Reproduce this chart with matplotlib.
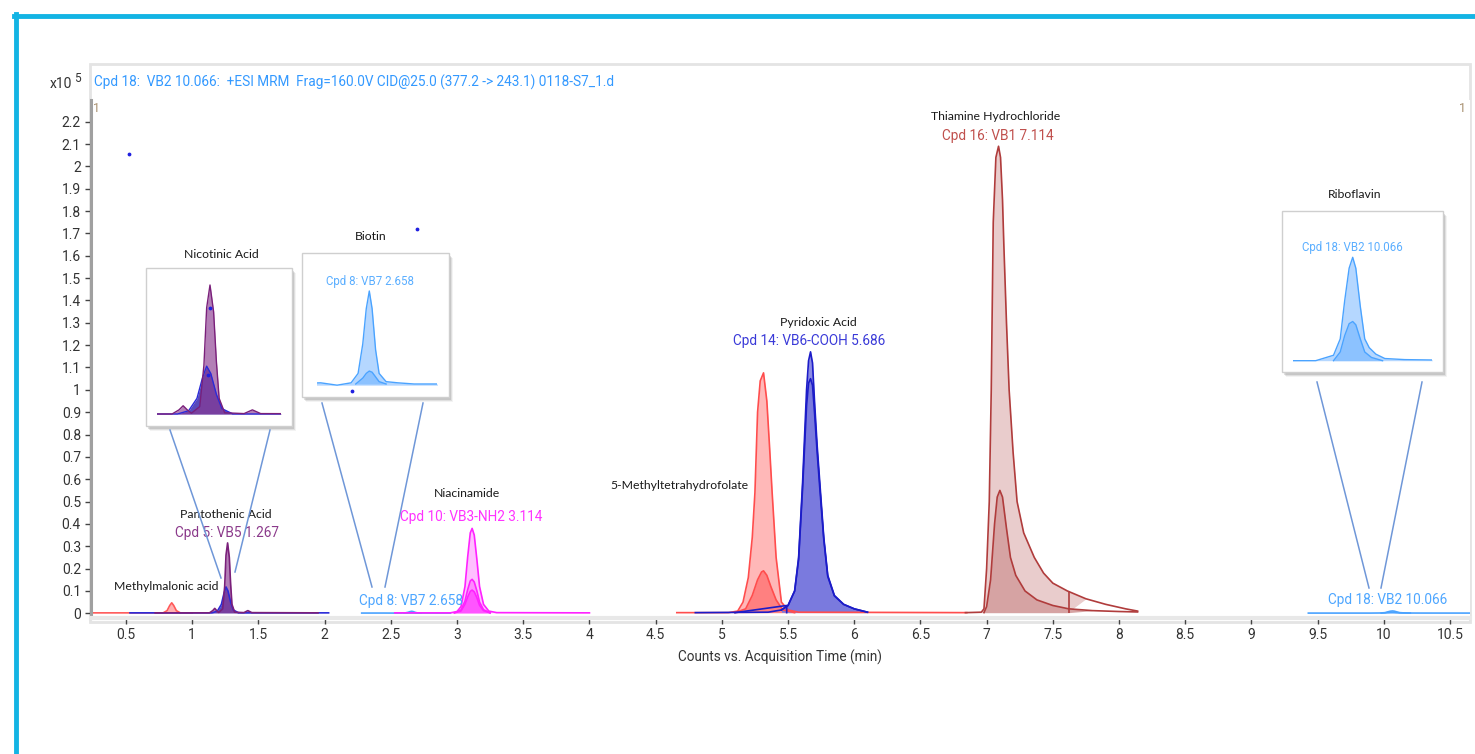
import numpy as np
import matplotlib.pyplot as plt
from matplotlib.patches import Rectangle
from matplotlib.lines import Line2D

W, H = 1475, 754

# zaman (min) ve sayım (x10^5) değerleri
mma_t = [0.23, 0.78, 0.81, 0.83, 0.845, 0.86, 0.88, 0.91, 1.00]
mma_y = [0.002, 0.002, 0.012, 0.035, 0.047, 0.035, 0.012, 0.002, 0.002]

nic_t = [0.53, 1.15, 1.19, 1.22, 1.24, 1.255, 1.27, 1.29, 1.31, 1.35, 2.03]
nic_y = [0.002, 0.002, 0.010, 0.040, 0.090, 0.118, 0.100, 0.050, 0.015, 0.002, 0.002]

pan_t = [0.72, 1.13, 1.155, 1.17, 1.185, 1.20, 1.23, 1.245, 1.255, 1.267, 1.28,
         1.29, 1.30, 1.32, 1.39, 1.42, 1.45, 1.95]
pan_y = [0.002, 0.002, 0.012, 0.022, 0.012, 0.004, 0.020, 0.120, 0.260, 0.315, 0.250,
         0.130, 0.040, 0.005, 0.003, 0.012, 0.003, 0.002]

bio_t = [2.28, 2.45, 2.52, 2.58, 2.61, 2.63, 2.645, 2.658, 2.67, 2.685, 2.70, 2.73,
         2.78, 2.85, 2.95]
bio_y = [0.0011, 0.0012, 0.0010, 0.0012, 0.0020, 0.0045, 0.0075, 0.0090, 0.0075,
         0.0040, 0.0020, 0.0013, 0.0012, 0.0011, 0.0011]
bio_in_t = [2.60, 2.63, 2.645, 2.658, 2.67, 2.685, 2.70, 2.73]
bio_in_y = [0.0011, 0.0016, 0.0020, 0.0022, 0.0021, 0.0017, 0.0013, 0.0011]

nia_t = [2.53, 2.95, 3.00, 3.03, 3.06, 3.08, 3.10, 3.114, 3.13, 3.15, 3.17, 3.20,
         3.24, 3.30, 4.00]
nia_y = [0.002, 0.002, 0.008, 0.030, 0.120, 0.250, 0.360, 0.380, 0.350, 0.240,
         0.120, 0.040, 0.010, 0.003, 0.002]
nia_mid_t = [2.98, 3.03, 3.06, 3.08, 3.10, 3.114, 3.13, 3.15, 3.17, 3.20, 3.25]
nia_mid_y = [0.002, 0.015, 0.055, 0.105, 0.145, 0.152, 0.140, 0.100, 0.050, 0.016, 0.002]
nia_low_t = [2.98, 3.03, 3.06, 3.08, 3.10, 3.114, 3.13, 3.15, 3.17, 3.20, 3.25]
nia_low_y = [0.002, 0.010, 0.040, 0.072, 0.098, 0.104, 0.096, 0.070, 0.036, 0.012, 0.002]

mthf_t = [4.66, 5.05, 5.12, 5.16, 5.20, 5.23, 5.25, 5.27, 5.29, 5.315, 5.34, 5.36,
          5.38, 5.41, 5.45, 5.50, 5.58, 6.85]
mthf_y = [0.003, 0.003, 0.010, 0.050, 0.160, 0.340, 0.540, 0.900, 1.040, 1.076,
          0.950, 0.750, 0.540, 0.250, 0.050, 0.015, 0.005, 0.003]
mthf_in_t = [5.10, 5.18, 5.23, 5.27, 5.30, 5.315, 5.34, 5.37, 5.41, 5.46, 5.55]
mthf_in_y = [0.003, 0.020, 0.080, 0.150, 0.185, 0.190, 0.170, 0.120, 0.060, 0.015, 0.003]

pyr_t = [4.80, 5.35, 5.45, 5.50, 5.55, 5.58, 5.61, 5.64, 5.655, 5.67, 5.685, 5.70,
         5.72, 5.74, 5.77, 5.80, 5.85, 5.92, 6.00, 6.10]
pyr_y = [0.003, 0.005, 0.015, 0.035, 0.100, 0.250, 0.585, 1.000, 1.130, 1.170,
         1.120, 0.950, 0.750, 0.585, 0.340, 0.170, 0.080, 0.040, 0.020, 0.005]
pyr_in_t = [5.45, 5.50, 5.55, 5.58, 5.61, 5.64, 5.655, 5.67, 5.685, 5.70, 5.72,
            5.74, 5.77, 5.80, 5.85, 5.92, 6.00, 6.10]
pyr_in_y = [0.015, 0.035, 0.100, 0.240, 0.560, 0.930, 1.030, 1.050, 1.020, 0.900,
            0.720, 0.560, 0.330, 0.165, 0.078, 0.040, 0.020, 0.005]
pyr_base_t = [5.10, 5.49, 5.49]
pyr_base_y = [0.003, 0.035, 0.003]

thi_t = [6.84, 6.96, 6.98, 7.00, 7.02, 7.035, 7.05, 7.07, 7.09, 7.105, 7.12, 7.13,
         7.15, 7.17, 7.20, 7.23, 7.28, 7.36, 7.43, 7.50, 7.61, 7.75, 7.90, 8.05, 8.14]
thi_y = [0.003, 0.005, 0.020, 0.200, 0.500, 1.000, 1.750, 2.040, 2.090, 2.040, 1.850,
         1.650, 1.300, 1.000, 0.720, 0.500, 0.360, 0.250, 0.180, 0.135, 0.100, 0.065,
         0.040, 0.020, 0.010]
thi_in_t = [6.98, 7.00, 7.03, 7.06, 7.08, 7.10, 7.12, 7.15, 7.18, 7.22, 7.29, 7.38,
            7.50, 7.62, 7.80, 8.00, 8.14]
thi_in_y = [0.003, 0.030, 0.150, 0.400, 0.520, 0.550, 0.520, 0.380, 0.250, 0.170,
            0.100, 0.060, 0.035, 0.020, 0.012, 0.008, 0.006]

rib_t = [9.43, 9.90, 9.98, 10.01, 10.03, 10.05, 10.066, 10.08, 10.10, 10.12, 10.14,
         10.17, 10.21, 10.30, 10.65]
rib_y = [0.0010, 0.0010, 0.0015, 0.0030, 0.0065, 0.0095, 0.0105, 0.0095, 0.0060,
         0.0030, 0.0022, 0.0016, 0.0012, 0.0011, 0.0010]
rib_in_t = [9.98, 10.01, 10.03, 10.05, 10.066, 10.08, 10.10, 10.12, 10.15, 10.20]
rib_in_y = [0.0010, 0.0018, 0.0033, 0.0044, 0.0046, 0.0043, 0.0030, 0.0018, 0.0013, 0.0010]

# tek tük noktalar
dots_t = [0.52, 2.70]
dots_y = [2.055, 1.72]

y_ticks = np.round(np.arange(0, 2.21, 0.1), 1)
x_ticks = np.arange(0.5, 10.51, 0.5)

NARROW = ['Roboto', 'DejaVu Sans']
LABEL = ['Lato', 'Open Sans', 'DejaVu Sans']


def px(x, y):
    return x / W, 1 - y / H


def peak(ax, t, y, line, fill, alpha=1.0, lw=1.2, where=None):
    t = np.asarray(t)
    y = np.asarray(y)
    if fill is not None:
        # taban çizgisine kadar doldur
        ax.fill_between(t, y, y.min(), color=fill, alpha=alpha, lw=0,
                        where=None if where is None else where(t), interpolate=True)
    ax.plot(t, y, color=line, lw=lw)


def draw_nic_pan(ax, lw=1.2):
    peak(ax, nic_t, nic_y, '#2a2ad8', '#3a2ab0', 0.85, lw)
    peak(ax, pan_t, pan_y, '#7a1f7a', '#8a3a90', 0.65, lw)


def draw_bio(ax, lw=1.2):
    peak(ax, bio_t, bio_y, '#4aa3ff', '#b5d7ff', 1.0, lw)
    peak(ax, bio_in_t, bio_in_y, '#4aa3ff', '#8cc2ff', 1.0, lw)


def draw_rib(ax, lw=1.2):
    peak(ax, rib_t, rib_y, '#4aa3ff', '#b5d7ff', 1.0, lw)
    peak(ax, rib_in_t, rib_in_y, '#4aa3ff', '#8cc2ff', 1.0, lw)


fig = plt.figure(figsize=(W / 100, H / 100), dpi=100)

# ana eksen
l, r, t_, b = 90.7, 1470, 100, 618
ax = fig.add_axes([l / W, 1 - b / H, (r - l) / W, (b - t_) / H])
ax.set_xlim(0.233, 10.651)
ax.set_ylim(-0.021, 2.297)

peak(ax, mma_t, mma_y, '#ff5a5a', '#ffb0b0', 1.0)
draw_nic_pan(ax)
draw_bio(ax)
peak(ax, nia_t, nia_y, '#ff22ff', '#ffc0ff', 1.0)
peak(ax, nia_mid_t, nia_mid_y, '#ff22ff', '#ff8cff', 1.0)
peak(ax, nia_low_t, nia_low_y, '#ff22ff', '#ff55ff', 1.0)
peak(ax, mthf_t, mthf_y, '#ff4d4d', '#ffb8b8', 1.0)
peak(ax, mthf_in_t, mthf_in_y, '#ff4d4d', '#ff8080', 1.0)
peak(ax, pyr_t, pyr_y, '#1c1cc8', '#8c8ce4', 1.0, where=lambda t: t >= 5.49)
peak(ax, pyr_in_t, pyr_in_y, '#1c1cc8', '#7a7ade', 1.0)
ax.plot(pyr_base_t, pyr_base_y, color='#1c1cc8', lw=1.2)
peak(ax, thi_t, thi_y, '#b03c3c', '#e9cccc', 1.0, where=lambda t: t <= 7.62)
peak(ax, thi_in_t, thi_in_y, '#b03c3c', '#d6a3a3', 1.0, where=lambda t: t <= 7.62)
ax.vlines(7.62, 0, 0.1, color='#b03c3c', lw=1.2)
draw_rib(ax)
ax.scatter(dots_t, dots_y, s=3, color='#2020e0', zorder=5)

ax.set_yticks(y_ticks)
ax.set_yticklabels(['%g' % v for v in y_ticks])
ax.set_xticks(x_ticks)
ax.set_xticklabels(['%g' % v for v in x_ticks])
ax.tick_params(length=4, width=1, color='#444444', labelcolor='#333333', pad=3)
for lab in ax.get_xticklabels() + ax.get_yticklabels():
    lab.set_family(NARROW)
    lab.set_fontsize(10)
for s in ['top', 'right']:
    ax.spines[s].set_visible(False)
ax.spines['left'].set_color('#a0a0a0')
ax.spines['left'].set_linewidth(2.2)
ax.spines['bottom'].set_color('#e8e8e8')
ax.spines['bottom'].set_linewidth(3)
ax.set_xlabel('Counts vs. Acquisition Time (min)', family=NARROW, fontsize=9.8,
              color='#333333', labelpad=6)

# etiketler
lab_kw = dict(family=LABEL, fontsize=8.8, color='#1a1a1a', ha='center', va='center')
cpd_kw = dict(family=NARROW, fontsize=9.8, ha='center', va='center')
ax.text(1.255, 0.44, 'Pantothenic Acid', **lab_kw)
ax.text(1.263, 0.36, 'Cpd 5: VB5 1.267', color='#8b3a8b', **cpd_kw)
ax.text(0.80, 0.122, 'Methylmalonic acid', **lab_kw)
ax.text(3.075, 0.534, 'Niacinamide', **lab_kw)
ax.text(3.106, 0.431, 'Cpd 10: VB3-NH2 3.114', color='#ff33ff', **cpd_kw)
ax.text(2.65, 0.055, 'Cpd 8: VB7 2.658', color='#4da6ff', **cpd_kw)
ax.text(4.68, 0.574, '5-Methyltetrahydrofolate', **lab_kw)
ax.text(5.73, 1.30, 'Pyridoxic Acid', **lab_kw)
ax.text(5.66, 1.218, 'Cpd 14: VB6-COOH 5.686', color='#3a3ad8', **cpd_kw)
ax.text(7.065, 2.221, 'Thiamine Hydrochloride', **lab_kw)
ax.text(7.086, 2.136, 'Cpd 16: VB1 7.114', color='#c0504d', **cpd_kw)
ax.text(10.03, 0.06, 'Cpd 18: VB2 10.066', color='#4da6ff', **cpd_kw)

# üst başlık ve çerçeve
fig.text(*px(94, 82), 'Cpd 18:  VB2 10.066:  +ESI MRM  Frag=160.0V CID@25.0 (377.2 -> 243.1) 0118-S7_1.d',
         family=NARROW, fontsize=9.8, color='#3399ff', va='center', ha='left')
fig.text(*px(72, 84), 'x10', family=NARROW, fontsize=10, color='#333333', ha='right', va='center')
fig.text(*px(74, 79), '5', family=NARROW, fontsize=8.5, color='#333333', ha='left', va='center')
fig.text(*px(97, 108), '1', family=NARROW, fontsize=9, color='#a89070', ha='center', va='center')
fig.text(*px(1462, 108), '1', family=NARROW, fontsize=9, color='#a89070', ha='center', va='center')
fig.add_artist(Rectangle(px(90, 622), (1470 - 90) / W, (622 - 64) / H, fill=False,
                         ec='#e4e4e4', lw=2, zorder=0))
fig.add_artist(Line2D([15.5 / W, 15.5 / W], [0, 1 - 14 / H], color='#13b4e4', lw=3.5))
fig.add_artist(Line2D([14 / W, 1], [1 - 15.5 / H, 1 - 15.5 / H], color='#13b4e4', lw=3.5))


def inset(box, inner, xmap, ymap, title, title_xy, drawer, cpd=None):
    bl, bt, br, bb = box
    # gölge
    for k, a in enumerate([0.18, 0.12, 0.07]):
        fig.add_artist(Rectangle(px(bl + 2 + k, bb + 3 + k), (br - bl) / W, (bb - bt) / H,
                                 fc='#555555', ec='none', alpha=a, zorder=2))
    fig.add_artist(Rectangle(px(bl, bb), (br - bl) / W, (bb - bt) / H,
                             fc='white', ec='#cfcfcf', lw=1, zorder=2.5))
    il, it, ir, ib = inner
    iax = fig.add_axes([il / W, 1 - ib / H, (ir - il) / W, (ib - it) / H], zorder=3)
    iax.patch.set_visible(False)
    iax.axis('off')
    xp, xd, xs = xmap
    iax.set_xlim(xd + (il - xp) / xs, xd + (ir - xp) / xs)
    (pa, va), (pb, vb) = ymap
    sy = (vb - va) / (pb - pa)
    iax.set_ylim(va + (ib - pa) * sy, va + (it - pa) * sy)
    drawer(iax, lw=1.0)
    fig.text(*px(*title_xy), title, **lab_kw)
    if cpd:
        fig.text(*px(*cpd[1]), cpd[0], family=NARROW, fontsize=8.3, color='#5aaeff',
                 ha='center', va='center', zorder=4)
    return iax


nax = inset((146, 268, 292, 426), (156.7, 270, 280.7, 424), (210, 1.267, 277),
            ((414, 0.002), (285, 0.315)), 'Nicotinic Acid', (221, 254), draw_nic_pan)
nax.scatter([1.267, 1.258], [0.26, 0.097], s=3, color='#2020e0', zorder=5)
bax = inset((302, 253, 449, 397), (317.3, 256, 437.3, 394), (369.3, 2.658, 233.5),
            ((384, 0.0011), (291, 0.0090)), 'Biotin', (371, 236), draw_bio,
            ('Cpd 8: VB7 2.658', (370, 282)))
bax.scatter([2.582], [0.00048], s=3, color='#2020e0', zorder=5, clip_on=False)
inset((1282, 211, 1443, 372), (1292.7, 214, 1432.3, 369), (1352.7, 10.066, 223),
      ((360.7, 0.001), (257.3, 0.0105)), 'Riboflavin', (1355, 195), draw_rib,
      ('Cpd 18: VB2 10.066', (1352, 248)))

# bağlantı çizgileri
for (x0, y0), (x1, y1) in [((170, 430), (221, 578)), ((270, 430), (235, 572)),
                           ((322, 403), (372, 587)), ((423, 403), (385, 587)),
                           ((1317, 382), (1369, 588)), ((1422, 382), (1381, 588))]:
    fig.add_artist(Line2D([x0 / W, x1 / W], [1 - y0 / H, 1 - y1 / H],
                          color='#6f97d8', lw=1.1, zorder=2))

fig.savefig('out.png', dpi=100)
